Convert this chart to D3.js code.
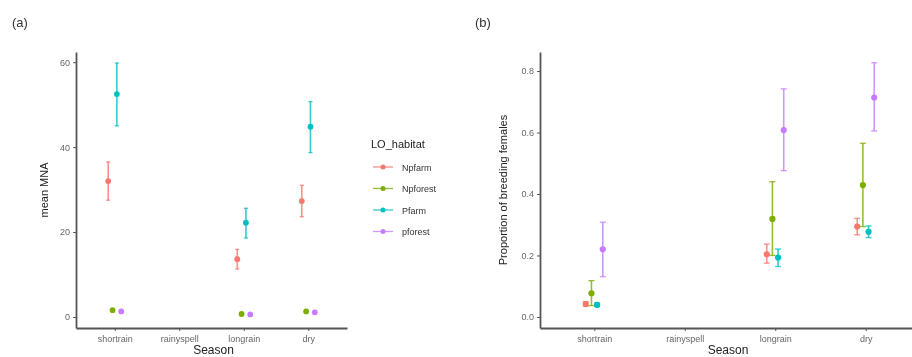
<!DOCTYPE html>
<html>
<script src="https://d3js.org/d3.v7.min.js"></script>
<style>
    body { margin: 0; background: #fff; }
    svg { font-family: "Liberation Sans", Arial, sans-serif; filter: blur(0.4px); }
    .tick text { fill: #666; font-size: 9px; }
    .tick line { stroke: #555; }
    .domain { stroke: #555; stroke-width: 1.8px; }
</style>
<body></body>
<script>
    const width = 912, height = 357;

    const seasons = ["shortrain", "rainyspell", "longrain", "dry"];
    const habitats = ["Npfarm", "Npforest", "Pfarm", "pforest"];
    const colors = ["#F8766D", "#7CAE00", "#00BFC4", "#C77CFF"];

    // panel (a): mean MNA, [mean, lower, upper] per season (null = no data)
    const mnaNpfarm = [[32.0, 27.5, 36.5], null, [13.6, 11.3, 15.9], [27.3, 23.6, 31.0]];
    const mnaNpforest = [[1.6, 1.6, 1.6], null, [0.7, 0.7, 0.7], [1.3, 1.3, 1.3]];
    const mnaPfarm = [[52.5, 45.0, 59.8], null, [22.2, 18.6, 25.6], [44.8, 38.7, 50.7]];
    const mnaPforest = [[1.3, 1.3, 1.3], null, [0.6, 0.6, 0.6], [1.1, 1.1, 1.1]];
    const mnaTicks = [0, 20, 40, 60];

    // panel (b): proportion of breeding females
    const brNpfarm = [[0.042, 0.035, 0.050], null, [0.204, 0.175, 0.237], [0.294, 0.267, 0.321]];
    const brNpforest = [[0.077, 0.037, 0.118], null, [0.319, 0.200, 0.440], [0.429, 0.294, 0.565]];
    const brPfarm = [[0.039, 0.034, 0.045], null, [0.193, 0.164, 0.221], [0.277, 0.258, 0.296]];
    const brPforest = [[0.220, 0.131, 0.308], null, [0.608, 0.476, 0.742], [0.714, 0.605, 0.827]];
    const brTicks = [0, 0.2, 0.4, 0.6, 0.8];

    const svg = d3.select("body").append("svg").attr("width", width).attr("height", height);

    function panel(cfg) {
        const g = svg.append("g");
        const x = d3.scalePoint().domain(seasons).range([cfg.left, cfg.right]).padding(0.6);
        const y = d3.scaleLinear().domain(cfg.domain).range([328, 52]);
        const dodge = d3.scalePoint().domain(habitats).range([-cfg.dodge, cfg.dodge]);

        g.append("g")
            .attr("transform", `translate(0,328)`)
            .call(d3.axisBottom(x).tickSize(3).tickSizeOuter(0))
            .call(a => a.selectAll(".tick text").attr("dy", "0.9em"));
        g.append("g")
            .attr("transform", `translate(${cfg.left},0)`)
            .call(d3.axisLeft(y).tickValues(cfg.ticks).tickFormat(cfg.fmt).tickSize(3).tickSizeOuter(0));

        cfg.series.forEach((vals, i) => {
            const data = vals.map((v, j) => v ? { s: seasons[j], m: v[0], lo: v[1], hi: v[2] } : null).filter(d => d);
            const cx = d => x(d.s) + dodge(habitats[i]);
            const sg = g.append("g").attr("stroke", colors[i]).attr("fill", colors[i]);
            sg.selectAll("line.v").data(data.filter(d => d.hi > d.lo)).join("line")
                .attr("x1", cx).attr("x2", cx)
                .attr("y1", d => y(d.lo)).attr("y2", d => y(d.hi))
                .attr("stroke-width", 1.6).attr("stroke-opacity", 0.8);
            ["lo", "hi"].forEach(k => {
                sg.selectAll("line.c" + k).data(data.filter(d => d.hi > d.lo)).join("line")
                    .attr("x1", d => cx(d) - cfg.cap).attr("x2", d => cx(d) + cfg.cap)
                    .attr("y1", d => y(d[k])).attr("y2", d => y(d[k]))
                    .attr("stroke-width", 1.3).attr("stroke-opacity", 0.8);
            });
            sg.selectAll("circle").data(data).join("circle")
                .attr("cx", cx).attr("cy", d => y(d.m))
                .attr("r", cfg.r).attr("stroke", "none");
        });

        svg.append("text")
            .attr("x", cfg.labelX).attr("y", 27)
            .attr("font-size", 13).attr("fill", "#333")
            .text(cfg.label);
        svg.append("text")
            .attr("text-anchor", "middle")
            .attr("transform", `translate(${cfg.titleX},190)rotate(-90)`)
            .attr("font-size", 11).attr("fill", "#222")
            .text(cfg.ytitle);
        svg.append("text")
            .attr("text-anchor", "middle")
            .attr("x", (cfg.left + Math.min(cfg.right, width)) / 2 + 2).attr("y", 354)
            .attr("font-size", 12).attr("fill", "#222")
            .text("Season");
    }

    panel({
        left: 76, right: 347, domain: [-2.6, 62.4], ticks: mnaTicks, fmt: d3.format("d"),
        series: [mnaNpfarm, mnaNpforest, mnaPfarm, mnaPforest],
        dodge: 6.5, cap: 2, r: 2.9, label: "(a)", labelX: 12, titleX: 48, ytitle: "mean MNA"
    });
    panel({
        left: 540, right: 920, domain: [-0.036, 0.862], ticks: brTicks, fmt: d3.format(".1f"),
        series: [brNpfarm, brNpforest, brPfarm, brPforest],
        dodge: 8.5, cap: 3, r: 3.1, label: "(b)", labelX: 475, titleX: 507, ytitle: "Proportion of breeding females"
    });

    // legend
    const legend = svg.append("g");
    legend.append("text").attr("x", 371).attr("y", 148).attr("font-size", 11).attr("fill", "#222").text("LO_habitat");
    habitats.forEach((h, i) => {
        const ly = 167 + i * 21.5;
        legend.append("line").attr("x1", 373).attr("x2", 393).attr("y1", ly).attr("y2", ly)
            .attr("stroke", colors[i]).attr("stroke-width", 1.3).attr("stroke-opacity", 0.8);
        legend.append("circle").attr("cx", 383).attr("cy", ly).attr("r", 2.5).attr("fill", colors[i]);
        legend.append("text").attr("x", 402).attr("y", ly + 3.5).attr("font-size", 9).attr("fill", "#333").text(h);
    });
</script>
</html>
